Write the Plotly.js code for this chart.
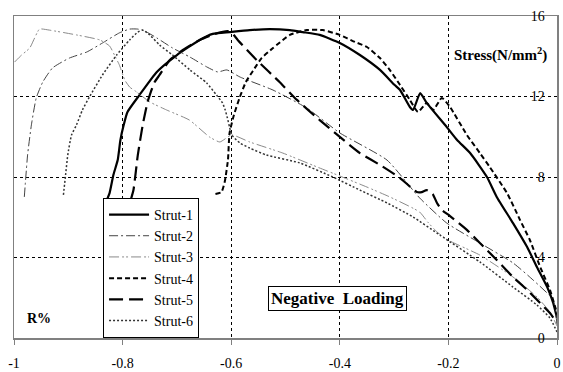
<!DOCTYPE html>
<html>
<head>
<meta charset="utf-8">
<script src="https://cdn.plot.ly/plotly-3.0.1.min.js"></script>
<style>
html,body{margin:0;padding:0;background:#fff;}
#chart{width:563px;height:372px;}
</style>
</head>
<body>
<div id="chart"></div>
<script>
// ---- Data (R% vs Stress N/mm^2) ----
const seriesNames = ["Strut-1", "Strut-2", "Strut-3", "Strut-4", "Strut-5", "Strut-6"];

const strut1X = [-0.833,-0.824,-0.817,-0.809,-0.804,-0.798,-0.791,-0.769,-0.737,-0.700,-0.658,-0.634,-0.603,-0.566,-0.529,-0.492,-0.468,-0.437,-0.400,-0.363,-0.326,-0.299,-0.289,-0.271,-0.265,-0.252,-0.240,-0.203,-0.184,-0.160,-0.129,-0.111,-0.081,-0.055,-0.037,-0.018,-0.007,0.000];
const strut1Y = [6.61,7.20,8.10,8.84,9.84,10.58,11.23,12.07,13.22,14.06,14.81,15.11,15.20,15.30,15.35,15.30,15.20,15.06,14.66,14.06,13.32,12.57,12.32,11.48,11.33,12.17,11.68,10.48,9.84,9.19,8.00,7.01,5.71,4.52,3.53,2.53,1.74,0.99];

const strut2X = [-0.981,-0.975,-0.968,-0.959,-0.947,-0.929,-0.898,-0.866,-0.837,-0.806,-0.787,-0.772,-0.759,-0.737,-0.708,-0.676,-0.645,-0.625,-0.608,-0.584,-0.523,-0.461,-0.400,-0.313,-0.253,-0.203,-0.142,-0.081,-0.044,-0.007,0.000];
const strut2Y = [7.01,9.09,10.58,11.93,12.72,13.42,13.91,14.21,14.66,15.16,15.35,15.35,15.25,14.91,14.41,13.96,13.47,13.22,13.32,12.97,12.32,11.43,10.19,8.84,6.96,5.71,4.72,3.73,2.88,1.89,0.65];

const strut3X = [-0.999,-0.986,-0.971,-0.962,-0.953,-0.935,-0.885,-0.842,-0.824,-0.815,-0.806,-0.796,-0.787,-0.774,-0.750,-0.719,-0.677,-0.640,-0.621,-0.599,-0.566,-0.505,-0.442,-0.400,-0.350,-0.308,-0.253,-0.238,-0.221,-0.201,-0.142,-0.081,-0.037,-0.013,0.000];
const strut3Y = [13.71,14.06,14.41,14.91,15.35,15.30,15.06,14.81,14.51,14.06,13.57,12.82,12.47,12.22,11.73,11.33,10.83,9.99,9.74,10.09,9.74,9.19,8.50,8.05,7.50,7.01,6.26,5.76,5.27,4.87,4.12,3.03,2.04,1.29,0.60];

const strut4X = [-0.629,-0.618,-0.612,-0.606,-0.603,-0.595,-0.584,-0.573,-0.560,-0.544,-0.523,-0.492,-0.461,-0.431,-0.400,-0.372,-0.350,-0.326,-0.308,-0.289,-0.271,-0.256,-0.240,-0.228,-0.212,-0.197,-0.166,-0.142,-0.124,-0.092,-0.068,-0.050,-0.031,-0.013,0.000];
const strut4Y = [7.16,7.25,7.75,8.84,10.19,11.08,11.98,12.72,13.27,13.91,14.41,15.06,15.30,15.30,15.06,14.71,14.46,13.91,13.32,12.57,11.83,11.23,11.68,11.33,11.93,11.48,10.09,9.19,8.50,7.20,5.86,4.87,3.53,2.39,1.24];

const strut5X = [-0.785,-0.780,-0.772,-0.763,-0.754,-0.750,-0.741,-0.732,-0.713,-0.689,-0.658,-0.630,-0.606,-0.597,-0.588,-0.553,-0.511,-0.479,-0.437,-0.400,-0.363,-0.326,-0.289,-0.258,-0.249,-0.240,-0.229,-0.221,-0.212,-0.197,-0.166,-0.142,-0.111,-0.081,-0.055,-0.031,-0.013,0.000];
const strut5Y = [6.86,7.35,9.09,10.58,11.73,12.07,12.72,13.07,13.81,14.31,14.81,15.11,15.25,15.11,14.81,13.81,12.72,11.83,10.83,9.99,9.19,8.60,7.95,7.25,7.25,7.35,7.16,6.71,6.36,6.06,5.37,4.72,3.88,3.03,2.39,1.74,1.24,0.75];

const strut6X = [-0.909,-0.905,-0.901,-0.894,-0.885,-0.874,-0.861,-0.837,-0.811,-0.787,-0.772,-0.763,-0.750,-0.732,-0.708,-0.676,-0.645,-0.627,-0.616,-0.611,-0.607,-0.603,-0.599,-0.584,-0.566,-0.535,-0.474,-0.413,-0.363,-0.313,-0.265,-0.216,-0.142,-0.081,-0.037,-0.013,0.000];
const strut6Y = [7.11,8.10,9.09,10.09,10.58,11.33,11.98,13.07,14.06,14.81,15.20,15.30,15.06,14.56,14.06,13.32,12.67,12.07,11.68,11.33,10.93,10.48,10.09,9.69,9.44,9.09,8.70,8.00,7.35,6.71,6.01,5.12,3.78,2.53,1.64,0.99,0.30];

const xTickVals = [-1, -0.8, -0.6, -0.4, -0.2, 0];
const xTickText = ["-1", "-0.8", "-0.6", "-0.4", "-0.2", "0"];
const yTickVals = [0, 4, 8, 12, 16];
const yTickText = ["0", "4", "8", "12", "16"];

// ---- Styles ----
const xs = [strut1X, strut2X, strut3X, strut4X, strut5X, strut6X];
const ys = [strut1Y, strut2Y, strut3Y, strut4Y, strut5Y, strut6Y];
const lineStyles = [
  {color: "#000000", width: 2.2, dash: "solid"},
  {color: "#444444", width: 1, dash: "9px,3px,2px,3px"},
  {color: "#8a8a8a", width: 1, dash: "10px,3px,2px,2px,2px,3px"},
  {color: "#000000", width: 2, dash: "5px,3px"},
  {color: "#000000", width: 2.2, dash: "14px,6px"},
  {color: "#333333", width: 1.5, dash: "2px,2px"}
];

const traces = seriesNames.map((n, i) => ({
  type: "scatter", mode: "lines", name: n,
  x: xs[i], y: ys[i],
  line: Object.assign({shape: "spline", smoothing: 0.5}, lineStyles[i]),
  legendgroup: "g" + i
}));

const serif = "Liberation Serif";

const layout = {
  width: 563, height: 372,
  margin: {l: 14, r: 6, t: 16, b: 34, pad: 0},
  paper_bgcolor: "#ffffff", plot_bgcolor: "#ffffff",
  font: {family: serif, size: 13, color: "#000"},
  showlegend: true,
  legend: {
    x: 0.164, y: 0.435, xanchor: "left", yanchor: "top",
    bgcolor: "#ffffff", bordercolor: "#000000", borderwidth: 1,
    font: {family: serif, size: 14, color: "#000"},
    traceorder: "grouped", tracegroupgap: 0, itemwidth: 40
  },
  xaxis: {
    range: [-1, 0], tickvals: xTickVals, ticktext: xTickText,
    showgrid: true, gridcolor: "#000", griddash: "dot", gridwidth: 1,
    zeroline: false, showline: true, linecolor: "#808080", linewidth: 1.5, mirror: true,
    ticks: "outside", ticklen: 5, tickcolor: "#808080", ticklabelstandoff: 7,
    tickfont: {family: serif, size: 14, color: "#000"}
  },
  yaxis: {
    range: [0, 16], tickvals: yTickVals, ticktext: yTickText, side: "right",
    ticklabelposition: "inside", ticklabeloverflow: "allow",
    showgrid: true, gridcolor: "#000", griddash: "dot", gridwidth: 1,
    zeroline: false, showline: true, linecolor: "#808080", linewidth: 1.5, mirror: true,
    ticks: "", ticklabelstandoff: 12,
    tickfont: {family: serif, size: 14, color: "#000"}
  },
  annotations: [
    {text: "<b>Negative  Loading</b>", x: -0.405, y: 1.96, xref: "x", yref: "y",
     showarrow: false, font: {family: serif, size: 17, color: "#000"},
     bgcolor: "#fff", bordercolor: "#000", borderwidth: 1, borderpad: 2},
    {text: "<b>R%</b>", x: 0.02, y: 0.03, xref: "paper", yref: "paper", xanchor: "left",
     showarrow: false, font: {family: serif, size: 14, color: "#000"}},
    {text: "<b>Stress(N/mm<sup>2</sup>)</b>", x: 0.985, y: 0.915, xref: "paper", yref: "paper", xanchor: "right",
     showarrow: false, font: {family: serif, size: 15, color: "#000"}}
  ]
};

Plotly.newPlot("chart", traces, layout, {displayModeBar: false, staticPlot: true});
</script>
</body>
</html>
